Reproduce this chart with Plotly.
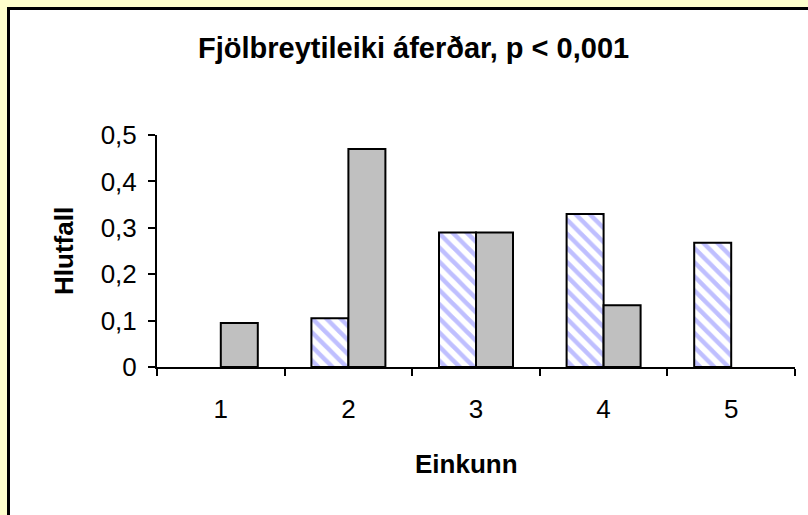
import plotly.graph_objects as go

categories = ["1", "2", "3", "4", "5"]
series_hatched = [None, 0.105, 0.29, 0.33, 0.268]
series_gray = [0.095, 0.47, 0.29, 0.133, None]
title_text = "Fjölbreytileiki áferðar, p < 0,001"
y_title = "Hlutfall"
x_title = "Einkunn"

W, H = 808, 515
L, R, T, B = 157, 13, 135, 148
pw, ph = W - L - R, H - T - B

def px_x(x):
    return (x - L) / pw

def px_y(y):
    return (H - B - y) / ph

font = "Liberation Sans, Arial, sans-serif"

fig = go.Figure()
fig.add_trace(go.Bar(
    x=categories, y=series_hatched, name="A",
    marker=dict(color="white",
                pattern=dict(shape="\\", fgcolor="#8080FF", bgcolor="white", size=10, solidity=0.45),
                line=dict(color="black", width=2)),
))
fig.add_trace(go.Bar(
    x=categories, y=series_gray, name="B",
    marker=dict(color="#C0C0C0", line=dict(color="black", width=2)),
))

fig.update_layout(
    width=W, height=H,
    margin=dict(l=L, r=R, t=T, b=B, pad=0),
    paper_bgcolor="#FFFFCC",
    plot_bgcolor="white",
    separators=",.",
    showlegend=False,
    barmode="group",
    bargap=0.42,
    bargroupgap=0,
    font=dict(family=font, color="black", size=26),
    xaxis=dict(
        type="category", showline=True, linecolor="black", linewidth=2,
        ticks="outside", tickson="boundaries", ticklen=7, tickwidth=2, tickcolor="black",
        ticklabelstandoff=18, showgrid=False, zeroline=False,
        tickfont=dict(size=26, family=font),
    ),
    yaxis=dict(
        range=[0, 0.5], dtick=0.1, showline=True, linecolor="black", linewidth=2,
        ticks="outside", ticklen=7, tickwidth=2, tickcolor="black",
        ticklabelstandoff=6, showgrid=False, zeroline=False,
        tickfont=dict(size=26, family=font),
    ),
    shapes=[dict(
        type="rect", xref="paper", yref="paper", layer="below",
        x0=px_x(8.5), x1=px_x(900), y0=px_y(600), y1=px_y(8.5),
        fillcolor="white", line=dict(color="black", width=3),
    )],
    annotations=[
        dict(text="<b>" + title_text + "</b>", xref="paper", yref="paper",
             x=px_x(413), y=px_y(48), showarrow=False, xanchor="center", yanchor="middle",
             font=dict(size=29, family=font)),
        dict(text="<b>" + y_title + "</b>", xref="paper", yref="paper",
             x=px_x(64), y=px_y(251), showarrow=False, textangle=-90,
             xanchor="center", yanchor="middle", font=dict(size=26, family=font)),
        dict(text="<b>" + x_title + "</b>", xref="paper", yref="paper",
             x=px_x(466), y=px_y(464), showarrow=False,
             xanchor="center", yanchor="middle", font=dict(size=26, family=font)),
    ],
)

fig.write_html(
    "out.html",
    config={"displayModeBar": False},
    post_script="document.body.style.margin='0';document.body.style.overflow='hidden';document.body.style.background='#FFFFCC';",
)
